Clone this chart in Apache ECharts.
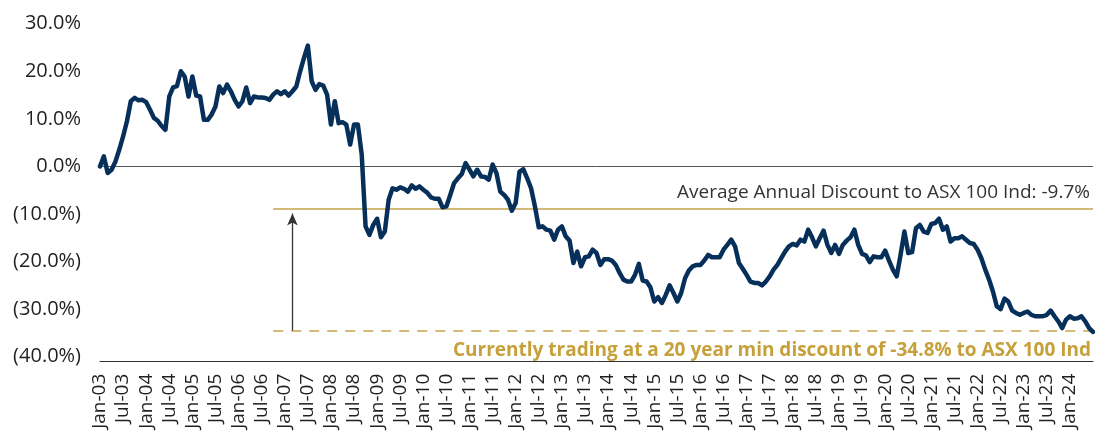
<!DOCTYPE html>
<html>
<head>
<meta charset="utf-8">
<script src="https://cdn.jsdelivr.net/npm/echarts@6/dist/echarts.min.js"></script>
<style>html,body{margin:0;padding:0;background:#fff}#c{width:1095px;height:440px}</style>
</head>
<body>
<div id="c"></div>
<script>
// Monthly categories Jan-03 .. Jul-24
const monthNames = ['Jan','Feb','Mar','Apr','May','Jun','Jul','Aug','Sep','Oct','Nov','Dec'];
const startYear = 2003, monthCount = 259;
const categories = [];
for (let i = 0; i < monthCount; i++) {
  const y = startYear + Math.floor(i / 12);
  categories.push(monthNames[i % 12] + '-' + String(y % 100).padStart(2, '0'));
}

// Premium/(discount) to ASX 100 Ind, %
const discount = [
  0.0, 2.1, -1.4, -0.7, 1.0, 3.5, 6.3, 9.5, 13.7, 14.4, 13.9, 14.0,
  13.5, 11.9, 10.2, 9.6, 8.5, 7.7, 14.7, 16.6, 16.9, 20.0, 18.9, 14.7,
  18.9, 14.9, 14.7, 9.8, 9.8, 10.9, 12.6, 16.8, 15.4, 17.2, 15.8, 14.0,
  12.6, 13.7, 16.6, 13.3, 14.7, 14.5, 14.5, 14.4, 14.0, 15.1, 15.8, 15.2,
  15.8, 14.9, 15.8, 16.8, 20.0, 22.8, 25.4, 17.9, 16.1, 17.3, 17.0, 15.1,
  8.8, 13.7, 9.1, 9.3, 8.8, 4.6, 8.8, 8.8, 2.5, -12.6, -14.4, -12.3,
  -11.0, -14.9, -13.7, -7.0, -4.6, -4.9, -4.4, -4.7, -5.3, -4.0, -4.7, -4.2,
  -4.9, -5.5, -6.5, -6.8, -6.8, -8.6, -8.4, -6.0, -3.5, -2.5, -1.6, 0.7,
  -0.7, -2.1, -0.7, -2.1, -2.2, -2.8, 0.4, -1.4, -5.3, -6.0, -7.0, -9.3,
  -7.7, -1.1, -0.6, -2.5, -4.6, -8.4, -12.8, -12.6, -13.3, -13.5, -15.4, -13.3,
  -12.6, -14.7, -15.6, -20.3, -17.9, -21.0, -19.1, -18.9, -17.5, -18.2, -20.7, -19.5,
  -19.5, -19.8, -20.7, -22.4, -23.8, -24.2, -24.2, -22.8, -20.5, -24.0, -24.2, -25.4,
  -28.4, -27.5, -28.7, -27.0, -25.0, -26.6, -28.4, -26.6, -23.5, -21.9, -21.0, -20.7,
  -20.7, -19.8, -18.6, -19.1, -19.1, -19.1, -17.5, -16.5, -15.4, -16.8, -20.3, -21.5,
  -22.8, -24.2, -24.5, -24.5, -25.0, -24.2, -23.1, -21.7, -20.7, -19.3, -17.9, -16.8,
  -16.3, -16.6, -15.4, -15.8, -13.3, -14.9, -16.8, -15.1, -13.5, -16.5, -18.2, -16.5,
  -18.4, -16.5, -15.6, -14.9, -13.3, -16.5, -18.4, -18.7, -20.1, -18.9, -19.1, -19.1,
  -17.7, -19.8, -21.7, -23.1, -18.6, -13.7, -18.2, -18.0, -13.0, -12.3, -13.7, -14.0,
  -12.1, -11.9, -11.0, -13.3, -12.6, -15.8, -15.1, -15.1, -14.7, -15.4, -16.1, -16.3,
  -17.5, -19.3, -21.7, -23.8, -26.3, -29.4, -30.0, -27.8, -28.4, -30.3, -30.8, -31.2,
  -30.8, -30.5, -31.2, -31.5, -31.5, -31.5, -31.2, -30.3, -31.5, -32.6, -34.0, -32.2,
  -31.5, -32.0, -31.9, -31.5, -32.6, -34.0, -34.8
];

// Annotation levels (as drawn)
const avgLevel = -8.8;
const minLevel = -34.5;
const refStartIdx = 45;   // where the reference lines begin
const arrowIdx = 50;      // arrow position
const arrowTop = -9.9;
const avgText = 'Average Annual Discount to ASX 100 Ind: -9.7%';
const minText = 'Currently trading at a 20 year min discount of -34.8% to ASX 100 Ind';

const yTicks = { min: -40, max: 30, interval: 10 };

const NAVY = '#06305a';
const GOLD = '#c6a24e';
const TEXT = '#231f20';
const FONT = "'Open Sans', sans-serif";

const chart = echarts.init(document.getElementById('c'), null, { renderer: 'canvas' });
const lastIdx = categories.length - 1;

chart.setOption({
  animation: false,
  grid: { left: 100, right: 2, top: 23.7, bottom: 83.3, containLabel: false },
  xAxis: {
    type: 'category',
    data: categories,
    boundaryGap: false,
    offset: 5,
    axisLine: { show: true, onZero: false, lineStyle: { color: '#333', width: 1 } },
    axisTick: { show: false },
    splitLine: { show: false },
    axisLabel: {
      rotate: 90,
      margin: 12,
      color: TEXT,
      fontFamily: FONT,
      fontSize: 19,
      interval: function (idx) { return idx % 6 === 0 && idx <= 252; }
    }
  },
  yAxis: {
    type: 'value',
    min: yTicks.min, max: yTicks.max, interval: yTicks.interval,
    axisLine: { show: false },
    axisTick: { show: false },
    splitLine: { show: false },
    axisLabel: {
      margin: 19,
      color: TEXT,
      fontFamily: FONT,
      fontSize: 20,
      formatter: function (v) {
        return v < 0 ? '(' + Math.abs(v).toFixed(1) + '%)' : v.toFixed(1) + '%';
      }
    }
  },
  series: [
    {
      type: 'line',
      data: discount,
      showSymbol: false,
      symbol: 'none',
      z: 5,
      lineStyle: { color: NAVY, width: 4.5, join: 'round', cap: 'round' },
      markLine: {
        silent: true,
        symbol: ['none', 'none'],
        animation: false,
        z: 1,
        data: [
          [
            { coord: [0, 0], lineStyle: { color: '#555', width: 1, type: 'solid' }, label: { show: false } },
            { coord: [lastIdx, 0] }
          ],
          [
            { coord: [refStartIdx, avgLevel], lineStyle: { color: GOLD, width: 1.5, type: 'solid' },
              label: { show: true, position: 'insideEndTop', formatter: avgText, color: '#333',
                       fontFamily: FONT, fontSize: 19, distance: [3, 6] } },
            { coord: [lastIdx, avgLevel] }
          ],
          [
            { coord: [refStartIdx, minLevel], lineStyle: { color: GOLD, width: 1.5, type: [10, 8] },
              label: { show: true, position: 'insideEndBottom', formatter: minText, color: '#c6a03a',
                       fontFamily: FONT, fontWeight: 'bold', fontSize: 19, distance: [2, 11] } },
            { coord: [lastIdx, minLevel] }
          ],
          [
            { coord: [arrowIdx, minLevel], symbol: 'none', lineStyle: { color: '#333', width: 1.3, type: 'solid' }, label: { show: false } },
            { coord: [arrowIdx, arrowTop], symbol: 'arrow', symbolSize: [8, 12] }
          ]
        ]
      }
    }
  ]
});
</script>
</body>
</html>
